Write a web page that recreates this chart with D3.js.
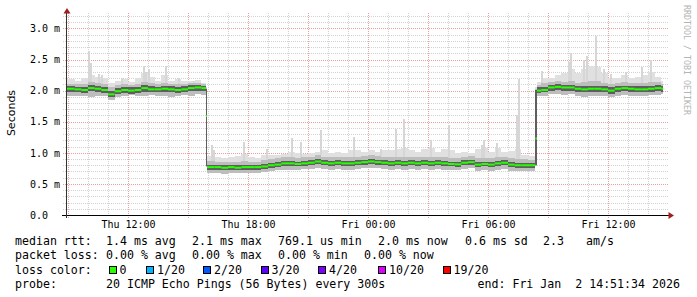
<!DOCTYPE html>
<html><head><meta charset="utf-8">
<script src="https://cdn.jsdelivr.net/npm/d3@7"></script>
<style>
body{margin:0;background:#fff}
svg{display:block}
text{font-family:"DejaVu Sans Mono",monospace;white-space:pre}
</style>
</head><body>
<svg id="c" width="697" height="297"></svg>
<script>
// ---------- data (ms) ----------
const binStart = [
 "1 08:57","1 09:20","1 09:40","1 10:00","1 10:20","1 10:40","1 11:00","1 11:20","1 11:40","1 12:00","1 12:20","1 12:40","1 13:00","1 13:20","1 13:40","1 14:00","1 14:20","1 14:40","1 15:00","1 15:20","1 15:40",
 "1 15:54",
 "1 15:57","1 16:20","1 16:40","1 17:00","1 17:20","1 17:40","1 18:00","1 18:20","1 18:40","1 19:00","1 19:20","1 19:40","1 20:00","1 20:20","1 20:40","1 21:00","1 21:20","1 21:40","1 22:00","1 22:20","1 22:40","1 23:00","1 23:20","1 23:40",
 "2 00:00","2 00:20","2 00:40","2 01:00","2 01:20","2 01:40","2 02:00","2 02:20","2 02:40","2 03:00","2 03:20","2 03:40","2 04:00","2 04:20","2 04:40","2 05:00","2 05:20","2 05:40","2 06:00","2 06:20","2 06:40","2 07:00","2 07:20","2 07:40","2 08:00",
 "2 08:22",
 "2 08:27","2 08:40","2 09:00","2 09:20","2 09:40","2 10:00","2 10:20","2 10:40","2 11:00","2 11:20","2 11:40","2 12:00","2 12:20","2 12:40","2 13:00","2 13:20","2 13:40","2 14:00","2 14:20","2 14:40"
];
const endTime = "2 14:46";
const medianMs = [
 2.03,2.02,2.01,2.04,2.03,2.01,1.94,1.99,2.01,2.00,2.01,2.04,2.02,2.02,2.03,2.02,2.01,2.02,2.04,2.05,2.04,
 1.59,
 0.77,0.77,0.76,0.77,0.76,0.77,0.77,0.77,0.78,0.80,0.81,0.83,0.83,0.82,0.83,0.84,0.86,0.84,0.83,0.84,0.83,0.83,0.84,0.85,
 0.86,0.85,0.84,0.83,0.84,0.83,0.84,0.83,0.84,0.83,0.84,0.83,0.82,0.815,0.84,0.85,0.81,0.82,0.81,0.83,0.84,0.81,0.80,0.80,0.80,
 1.23,
 2.00,2.01,2.05,2.06,2.05,2.05,2.03,2.02,2.03,2.03,2.02,2.00,2.03,2.04,2.03,2.02,2.02,2.03,2.04,2.03
];
const lowMs = [
 1.91,1.92,1.91,1.90,1.92,1.91,1.85,1.89,1.92,1.93,1.91,1.92,1.93,1.91,1.92,1.90,1.91,1.93,1.92,1.94,1.93,
 0.77,
 0.68,0.67,0.66,0.67,0.67,0.68,0.68,0.67,0.69,0.71,0.72,0.73,0.73,0.72,0.74,0.74,0.76,0.74,0.73,0.74,0.73,0.73,0.74,0.75,
 0.76,0.75,0.74,0.73,0.74,0.73,0.74,0.73,0.74,0.73,0.74,0.73,0.72,0.72,0.74,0.75,0.71,0.72,0.71,0.73,0.74,0.71,0.70,0.70,0.70,
 0.79,
 1.92,1.91,1.94,1.95,1.93,1.94,1.92,1.90,1.92,1.91,1.92,1.90,1.92,1.93,1.92,1.91,1.92,1.93,1.93,1.94
];
const q1Ms = [
 1.98,1.97,1.96,1.99,1.98,1.96,1.90,1.94,1.96,1.95,1.96,1.98,1.97,1.97,1.98,1.97,1.96,1.97,1.99,2.00,1.99,
 0.78,
 0.73,0.73,0.72,0.73,0.72,0.73,0.73,0.73,0.74,0.76,0.77,0.79,0.79,0.78,0.79,0.80,0.82,0.80,0.79,0.80,0.79,0.79,0.80,0.81,
 0.82,0.81,0.80,0.79,0.80,0.79,0.80,0.79,0.80,0.79,0.80,0.79,0.78,0.77,0.80,0.81,0.77,0.78,0.77,0.79,0.80,0.77,0.76,0.76,0.76,
 0.80,
 1.96,1.97,2.00,2.01,2.00,2.00,1.98,1.97,1.98,1.98,1.97,1.95,1.98,1.99,1.98,1.97,1.97,1.98,1.99,1.98
];
const q3Ms = [
 2.07,2.06,2.05,2.09,2.07,2.06,2.00,2.04,2.06,2.05,2.06,2.09,2.07,2.06,2.08,2.07,2.06,2.07,2.09,2.09,2.08,
 2.03,
 0.81,0.81,0.80,0.81,0.80,0.81,0.81,0.81,0.82,0.84,0.85,0.87,0.87,0.86,0.87,0.88,0.90,0.88,0.87,0.88,0.87,0.87,0.88,0.89,
 0.90,0.89,0.88,0.87,0.88,0.87,0.88,0.87,0.88,0.87,0.88,0.87,0.86,0.86,0.88,0.89,0.85,0.86,0.85,0.87,0.88,0.85,0.84,0.84,0.84,
 2.01,
 2.05,2.06,2.09,2.10,2.09,2.09,2.07,2.07,2.08,2.08,2.07,2.05,2.07,2.08,2.07,2.07,2.07,2.08,2.09,2.07
];
const highMs = [
 2.11,2.10,2.10,2.14,2.12,2.10,2.06,2.09,2.10,2.09,2.11,2.14,2.12,2.10,2.13,2.11,2.10,2.11,2.13,2.13,2.11,
 2.04,
 0.87,0.86,0.85,0.86,0.86,0.87,0.86,0.86,0.88,0.90,0.91,0.93,0.93,0.92,0.93,0.94,0.96,0.94,0.93,0.94,0.93,0.93,0.94,0.95,
 0.96,0.95,0.94,0.93,0.94,0.93,0.94,0.93,0.94,0.93,0.94,0.93,0.92,0.91,0.94,0.95,0.91,0.92,0.91,0.93,0.94,0.91,0.90,0.90,0.89,
 2.02,
 2.09,2.12,2.14,2.15,2.14,2.16,2.13,2.14,2.15,2.16,2.13,2.10,2.12,2.14,2.12,2.12,2.13,2.14,2.14,2.11
];
const maxMs = [
 2.18,2.15,2.20,2.25,2.22,2.20,2.12,2.16,2.18,2.14,2.20,2.28,2.22,2.15,2.25,2.15,2.18,2.15,2.16,2.17,2.13,
 2.06,
 0.95,0.93,0.92,0.93,0.95,0.98,0.93,0.92,0.97,0.96,0.97,0.98,1.02,1.00,0.98,1.00,1.02,1.05,1.00,1.02,1.00,1.05,1.04,1.02,
 1.04,1.02,1.04,1.04,1.06,1.08,1.05,1.02,1.06,1.08,1.02,1.06,1.04,1.00,1.02,1.00,1.06,1.08,1.02,1.08,1.02,1.03,1.06,0.97,0.95,
 2.05,
 2.14,2.20,2.20,2.25,2.28,2.35,2.28,2.35,2.40,2.38,2.28,2.20,2.20,2.25,2.20,2.22,2.25,2.30,2.22,2.15
];
// single 5-minute samples whose slowest ping sticks out
const spikeTimes = ["1 10:00","1 10:05","1 10:30","1 10:40","1 11:40","1 12:45","1 12:50","1 13:00","1 13:50","1 14:30","1 15:15",
 "1 16:10","1 16:15","1 17:45","1 18:55","1 20:10","1 20:35","1 21:35","1 23:15","2 00:35","2 01:20","2 01:45","2 03:05","2 04:00","2 05:40","2 05:45","2 06:25","2 07:25","2 07:30",
 "2 08:40","2 10:00","2 10:05","2 10:45","2 10:55","2 11:20","2 11:45","2 12:05","2 12:50","2 13:40","2 14:05"];
const spikeMax = [2.64,2.45,2.27,2.25,2.21,2.40,2.30,2.35,2.40,2.21,2.16,
 1.12,1.05,1.17,1.06,1.23,1.17,1.36,1.26,1.06,1.39,1.55,1.20,1.45,1.12,1.20,1.15,1.60,2.19,
 2.32,2.46,2.60,2.50,2.55,2.88,2.35,2.27,2.30,2.38,2.50];

const yTickValues = [0,0.5,1,1.5,2,2.5,3];
const yTickLabels = ["0.0","0.5 m","1.0 m","1.5 m","2.0 m","2.5 m","3.0 m"];
const lossLabels = ["0","1/20","2/20","3/20","4/20","10/20","19/20"];
const lossColors = ["#26ff00","#00b8ff","#0059ff","#5e00ff","#7e00ff","#dd00ff","#ff0000"];
const legendRows = [
 [[15,"median rtt:"],[106,"1.4 ms avg"],[192,"2.1 ms max"],[278,"769.1 us min"],[378,"2.0 ms now"],[465,"0.6 ms sd"],[543,"2.3"],[586,"am/s"]],
 [[15,"packet loss:"],[106,"0.00 % avg"],[192,"0.00 % max"],[278,"0.00 % min"],[364,"0.00 % now"]],
 [[15,"loss color:"]],
 [[15,"probe:"],[106,"20 ICMP Echo Pings (56 Bytes) every 300s"],[477.5,"end: Fri Jan  2 14:51:34 2026"]]
];
const lossBoxX = [108.5,146,203,260.5,318,378,442.5];

// ---------- scales ----------
const parse = d3.timeParse("%Y-%m-%d %H:%M");
const T = s => parse("2026-01-0" + s);
const x = d3.scaleTime().domain([T("1 08:57"), T("2 14:57")]).range([67, 667]);
const y = d3.scaleLinear().domain([0, 3]).range([215, 28.4]);
const svg = d3.select("#c");

// ---------- grid ----------
const g = svg.append("g").attr("shape-rendering","crispEdges");
const hours = d3.timeHour.range(x.domain()[0], x.domain()[1]);
const px = v => Math.round(v) + 0.5;
for (let v = 1; v <= 32; v++) {
  const val = v / 10;
  const major = v % 5 === 0;
  g.append("line").attr("x1",63).attr("x2",668).attr("y1",px(y(val))).attr("y2",px(y(val)))
   .attr("stroke", major ? "#eda0a0" : "#d2d2d2").attr("stroke-dasharray","1,1");
}
hours.forEach(h => {
  const major = h.getHours() % 3 === 0;
  g.append("line").attr("x1",px(x(h))).attr("x2",px(x(h))).attr("y1",13).attr("y2",major?218:215)
   .attr("stroke", major ? "#eda0a0" : "#d2d2d2").attr("stroke-dasharray","1,1");
});

// ---------- smoke ----------
const bins = binStart.map((s,i)=>({t:T(s), med:medianMs[i], lo:lowMs[i], q1:q1Ms[i], q3:q3Ms[i], hi:highMs[i], mx:maxMs[i]}));
const pts = bins.concat([Object.assign({}, bins[bins.length-1], {t:T(endTime)})]);
const sg = svg.append("g").attr("shape-rendering","crispEdges");
const band = (a,b,col) => sg.append("path").datum(pts)
  .attr("d", d3.area().curve(d3.curveStepAfter).x(d=>x(d.t)).y0(d=>y(d[a])).y1(d=>y(d[b])))
  .attr("fill", col);
band("lo","mx","#e0e0e0");
const starts = bins.map(b=>b.t);
spikeTimes.forEach((s,i) => {
  const t = T(s);
  const b = bins[Math.max(0, d3.bisectRight(starts, t) - 1)];
  const x0 = Math.round(x(t));
  sg.append("rect").attr("x", x0).attr("width", 2)
    .attr("y", y(spikeMax[i])).attr("height", y(b.hi) - y(spikeMax[i]))
    .attr("fill", "#d6d6d6");
});
band("lo","hi","#bdbdbd");
band("q1","q3","#5e5e5e");

// median
const mline = d3.line().x(d=>x(d[0])).y(d=>y(d[1]));
const mg = svg.append("g");
bins.forEach((b,i) => {
  const tn = i < bins.length-1 ? bins[i+1].t : T(endTime);
  mg.append("path").attr("d", mline([[b.t,b.med],[tn,b.med]]))
    .attr("stroke", lossColors[0]).attr("stroke-width", 2).attr("fill","none");
});

// ---------- axes ----------
const xa = svg.append("g").attr("transform","translate(0,215)")
  .call(d3.axisBottom(x).tickValues(hours.filter(h=>h.getHours()%6===0)).tickFormat(d3.timeFormat("%a %H:%M")).tickSize(0).tickPadding(6));
xa.select(".domain").remove();
xa.selectAll("text").attr("font-size","10px").attr("fill","#000").style("font-family","DejaVu Sans Mono");
const ya = svg.append("g").attr("transform","translate(67,0)")
  .call(d3.axisLeft(y).tickValues(yTickValues).tickFormat((d,i)=>yTickLabels[i]).tickSize(0));
ya.select(".domain").remove();
ya.selectAll("text").attr("x",-37).attr("text-anchor","start").attr("font-size","10px").attr("fill","#000").style("font-family","DejaVu Sans Mono");

const ax = svg.append("g").attr("shape-rendering","crispEdges");
ax.append("line").attr("x1",62).attr("x2",670).attr("y1",215.5).attr("y2",215.5).attr("stroke","#000");
ax.append("line").attr("x1",66.5).attr("x2",66.5).attr("y1",218).attr("y2",12).attr("stroke","#333");
svg.append("path").attr("d","M63.5,13.5L67,8L70.5,13.5Z").attr("fill","#a02020");
svg.append("path").attr("d","M668.5,212L674,215.5L668.5,219Z").attr("fill","#a02020");

svg.append("text").attr("transform","translate(15,113) rotate(-90)").attr("text-anchor","middle")
  .style("font-family","DejaVu Sans").attr("font-size","11px").text("Seconds");

svg.append("text").attr("transform","translate(684,5) rotate(90)").attr("font-size","8.3px")
  .attr("fill","#b4b4b4").text("RRDTOOL / TOBI OETIKER");

// ---------- legend ----------
const rowY = [244.5,259,273.5,288];
legendRows.forEach((row,r) => row.forEach(([lx,s]) => {
  svg.append("text").attr("x",lx).attr("y",rowY[r]).attr("font-size","11.6px").attr("xml:space","preserve").text(s);
}));
lossLabels.forEach((l,i) => {
  svg.append("rect").attr("x",lossBoxX[i]+0.5).attr("y",266.5).attr("width",7).attr("height",7)
    .attr("fill",lossColors[i]).attr("stroke","#000").attr("stroke-width",1).attr("shape-rendering","crispEdges");
  svg.append("text").attr("x",lossBoxX[i]+11).attr("y",rowY[2]).attr("font-size","11.6px").text(l);
});
</script>
</body></html>
